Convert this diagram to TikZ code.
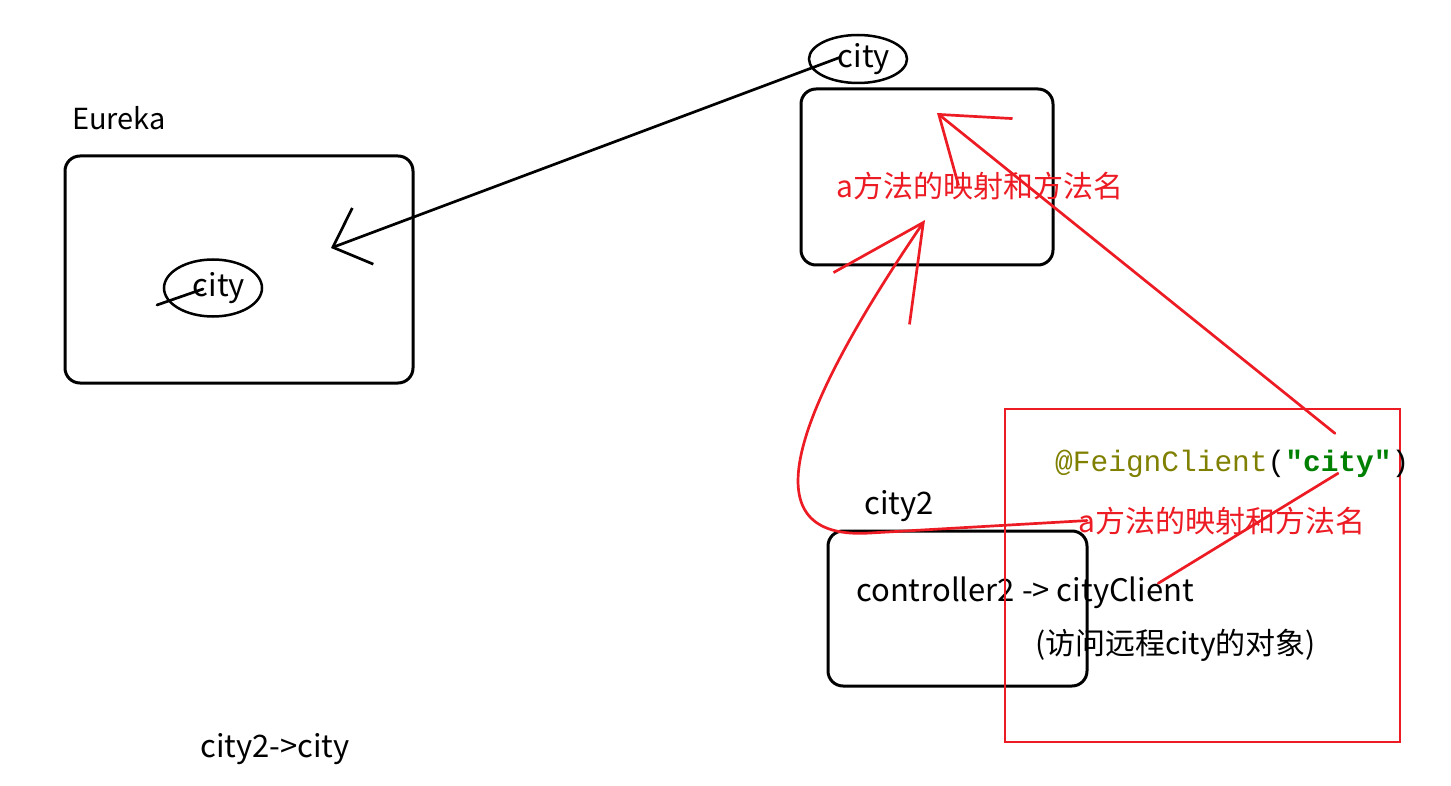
\documentclass[tikz,border=0pt]{standalone}
\usepackage{fontspec}
\setmainfont{Noto Sans CJK SC}
\newfontfamily\codefont{Liberation Mono}
\usetikzlibrary{positioning, arrows.meta, shapes.geometric, calc}
\definecolor{paintred}{HTML}{ED1C24}
\definecolor{codeolive}{HTML}{808000}
\definecolor{codegreen}{HTML}{008000}
\tikzset{box/.style={draw, rounded corners=15pt, line width=3pt, inner sep=0pt},
bubble/.style={draw, ellipse, line width=2.5pt, inner sep=0pt, minimum width=98pt},
lbl/.style={font=\fontsize{31}{37}\selectfont, inner sep=0pt, anchor=base west},
cjklbl/.style={lbl, font=\fontsize{30}{36}\selectfont},
redlbl/.style={cjklbl, text=paintred},
frame/.style={draw=paintred, line width=2.5pt, inner sep=0pt},
pen/.style={line width=2.7pt, line cap=round},
redpen/.style={draw=paintred, line width=2.7pt, line cap=round},
hand/.style 2 args={-{Straight Barb[length=#1, width=#2]}}}

\begin{document}
\begin{tikzpicture}[x=1pt, y=-1pt]
  \path[fill=white, use as bounding box] (0,0) rectangle (1451,786);
  % registry side
  \node[lbl, font=\fontsize{29}{35}\selectfont] (eurekaLbl) at (72,130) {Eureka};
  \node[box, minimum width=348pt, minimum height=227pt] (eureka) at (239,269.5) {};
  \node[bubble, font=\fontsize{31}{37}\selectfont, minimum height=57pt] (cityE) at (213,288) {\hspace{12pt}city};
  \coordinate (eurekaIn) at (331,248);
  \draw[pen] (157,305) -- (203,289);
  % service city
  \node[bubble, font=\fontsize{31}{37}\selectfont, minimum height=48pt] (cityTop) at (858,59) {\hspace{12pt}city};
  \node[box, minimum width=252pt, minimum height=176pt] (mapBox) at (927,177) {};
  \node[redlbl] (mapLbl) at (836,198) {a方法的映射和方法名};
  \coordinate (mapTip) at (925,220);
  \coordinate (ctlTip) at (937,113);
  % service city2
  \node[lbl] (city2Lbl) at (864,514) {city2};
  \node[box, minimum width=259pt, minimum height=155pt] (city2Box) at (957.5,608.5) {};
  \node[lbl] (ctrl) at (856,601) {controller2 -> cityClient};
  \node[cjklbl] (remote) at (1035,654) {(访问远程city的对象)};
  \node[frame, minimum width=395pt, minimum height=333pt] (feignFrame) at (1202.5,575.5) {};
  \node[lbl, font=\codefont\fontsize{29.5}{35}\selectfont] (feign) at (1055,471)
    {{\color{codeolive}@FeignClient}({\color{codegreen}\bfseries"city"})};
  \node[redlbl] (feignLbl) at (1078,532) {a方法的映射和方法名};
  \node[lbl] (route) at (200,757) {city2->city};
  % connectors
  \draw[pen, hand={32pt}{60pt}] ($(cityTop.text)+(14,-10)$) -- (eurekaIn);
  \draw[redpen, hand={60pt}{86pt}] ($(feign.north west)+(280,-16)$) -- (ctlTip);
  \draw[redpen] ($(ctrl.east)+(-36,-9)$) -- ($(feign.south west)+(283,-4)$);
  \draw[redpen, hand={92pt}{92pt}] ([xshift=9pt]feignLbl.west) -- (870,533)
    .. controls (760,540) and (775,440) .. (mapTip);
\end{tikzpicture}
\end{document}
